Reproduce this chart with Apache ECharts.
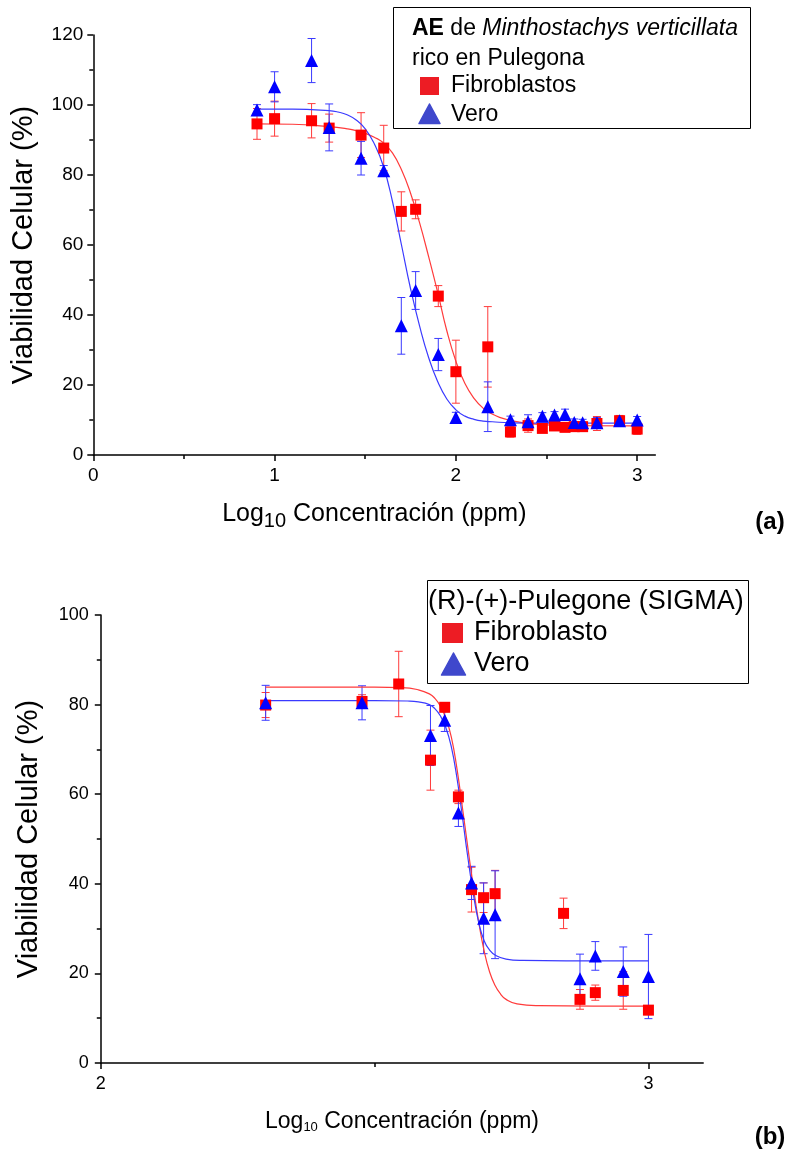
<!DOCTYPE html>
<html>
<head>
<meta charset="utf-8">
<script src="https://cdn.jsdelivr.net/npm/echarts@6/dist/echarts.min.js"></script>
<style>
html,body{margin:0;padding:0;background:#fff;}
#c{width:790px;height:1153px;}
</style>
</head>
<body>
<div id="c"></div>
<script>
// ---------- Panel (a): AE de Minthostachys verticillata ----------
const xA = [0.903, 1.000, 1.204, 1.301, 1.477, 1.602, 1.699, 1.778, 1.903, 2.000, 2.176, 2.301, 2.398, 2.477, 2.544, 2.602, 2.653, 2.699, 2.778, 2.903, 3.000];
const fibA = [94.6, 96.1, 95.5, 93.4, 91.4, 87.7, 69.6, 70.2, 45.4, 23.8, 30.9, 6.6, 8.4, 7.6, 8.3, 7.9, 8.1, 8.1, 9.0, 9.8, 7.4];
const fibAErr = [4.4, 5.0, 4.9, 4.0, 6.4, 6.5, 5.6, 2.7, 3.0, 9.0, 11.5, 1.5, 1.9, 1.0, 1.0, 1.0, 0.8, 0.8, 2.0, 1.5, 1.5];
const veroA = [98.6, 105.2, 112.7, 93.6, 84.8, 81.2, 36.9, 47.0, 28.7, 10.7, 13.8, 10.1, 9.5, 11.1, 11.4, 11.6, 9.3, 9.2, 9.2, 9.8, 10.0];
const veroAErr = [1.5, 4.3, 6.3, 6.7, 4.8, 1.5, 8.1, 5.4, 4.6, 1.5, 7.1, 1.0, 2.0, 1.0, 1.0, 1.5, 1.0, 1.0, 1.5, 1.0, 1.0];
const fitFibAx = [0.903, 1.1, 1.3, 1.4, 1.45, 1.5, 1.55, 1.6, 1.65, 1.7, 1.75, 1.8, 1.85, 1.9, 1.95, 2.0, 2.05, 2.1, 2.15, 2.2, 2.25, 2.3, 2.35, 2.4, 2.5, 2.7, 3.0];
const fitFibAy = [94.6, 94.5, 93.8, 93.2, 92.7, 91.9, 90.8, 89.2, 86.3, 81.5, 74.8, 66.3, 56.6, 46.4, 35.5, 26.8, 20.4, 16.2, 13.4, 11.7, 10.6, 9.9, 9.4, 9.0, 8.6, 8.4, 8.3];
const fitVeroAx = [0.903, 1.1, 1.3, 1.35, 1.4, 1.45, 1.5, 1.55, 1.6, 1.65, 1.7, 1.75, 1.8, 1.85, 1.9, 1.95, 2.0, 2.05, 2.1, 2.15, 2.2, 2.3, 2.5, 3.0];
const fitVeroAy = [98.8, 98.8, 98.4, 98.0, 97.2, 95.7, 93.2, 88.9, 82.5, 72.5, 60.0, 47.5, 36.8, 27.8, 20.9, 16.0, 12.9, 11.1, 10.2, 9.7, 9.5, 9.2, 9.1, 9.1];
const xTicksA = [0, 1, 2, 3];
const xMinorA = [0.5, 1.5, 2.5];

// ---------- Panel (b): (R)-(+)-Pulegone (SIGMA) ----------
const xB = [2.301, 2.477, 2.544, 2.602, 2.628, 2.653, 2.677, 2.699, 2.720, 2.845, 2.875, 2.903, 2.954, 3.000];
const fibB = [79.9, 80.7, 84.6, 67.6, 79.4, 59.4, 38.7, 36.9, 37.8, 33.4, 14.2, 15.7, 16.2, 11.8];
const fibBErr = [2.8, 1.5, 7.3, 6.7, 1.0, 1.5, 5.0, 3.3, 5.2, 3.4, 2.2, 1.7, 4.2, 1.0];
const veroB = [80.4, 80.4, null, 73.1, 76.5, 55.8, 40.2, 32.3, 33.1, null, 18.8, 23.9, 20.4, 19.3];
const veroBErr = [3.9, 3.8, null, 6.7, 2.5, 3.0, 3.7, 7.9, 9.8, null, 5.5, 3.2, 5.5, 9.4];
const fitFibBx = [2.301, 2.40, 2.50, 2.55, 2.58, 2.60, 2.61, 2.62, 2.63, 2.64, 2.65, 2.66, 2.67, 2.68, 2.69, 2.70, 2.71, 2.72, 2.73, 2.74, 2.76, 2.80, 2.90, 3.0];
const fitFibBy = [83.9, 83.9, 83.9, 83.8, 83.3, 82.4, 81.4, 79.7, 77.0, 72.8, 66.0, 57.3, 48.3, 39.5, 31.5, 25.0, 20.3, 17.3, 15.4, 14.2, 13.2, 12.8, 12.7, 12.7];
const fitVeroBx = [2.301, 2.40, 2.50, 2.56, 2.58, 2.60, 2.61, 2.62, 2.63, 2.64, 2.65, 2.66, 2.67, 2.68, 2.69, 2.70, 2.71, 2.72, 2.74, 2.77, 2.85, 3.0];
const fitVeroBy = [80.9, 80.9, 80.9, 80.8, 80.6, 80.0, 79.1, 77.5, 74.9, 70.6, 63.9, 55.2, 46.1, 37.9, 31.4, 27.3, 25.2, 24.1, 23.2, 22.9, 22.8, 22.8];
const xTicksB = [2, 3];
const xMinorB = [2.5];

// ---------- helpers ----------
const FONT = '"Liberation Sans", Arial, sans-serif';
const zip = (xs, ys) => xs.map((x, i) => [x, ys[i]]).filter(p => p[1] != null);
const zipErr = (xs, ys, es) => xs.map((x, i) => [x, ys[i], es[i]]).filter(p => p[1] != null);

function errRender(color) {
  return function (params, api) {
    const x = api.value(0), y = api.value(1), e = api.value(2);
    const t = api.coord([x, y + e]);
    const b = api.coord([x, y - e]);
    const hw = 4;
    const st = { stroke: color, lineWidth: 1 };
    return {
      type: 'group',
      children: [
        { type: 'line', shape: { x1: t[0], y1: t[1], x2: b[0], y2: b[1] }, style: st },
        { type: 'line', shape: { x1: t[0] - hw, y1: t[1], x2: t[0] + hw, y2: t[1] }, style: st },
        { type: 'line', shape: { x1: b[0] - hw, y1: b[1], x2: b[0] + hw, y2: b[1] }, style: st }
      ]
    };
  };
}

const RED = '#ff0000', BLUE = '#0000ff';
const RED_L = '#ff3b3b', BLUE_L = '#3a3aff';

function xAxisMain(grid, min, max, ticks, name, gap, fs, subFs, subPad, labFs, margin) {
  return {
    type: 'value', gridIndex: grid, min: min, max: max, position: 'bottom',
    axisLine: { show: true, onZero: false, lineStyle: { color: '#000', width: 1.5 } },
    axisTick: { show: true, inside: false, length: 6, customValues: ticks, lineStyle: { color: '#000', width: 1.5 } },
    axisLabel: { show: true, customValues: ticks, margin: margin, fontSize: labFs, fontFamily: FONT, color: '#000' },
    splitLine: { show: false },
    name: name, nameLocation: 'middle', nameGap: gap,
    nameTextStyle: {
      fontSize: fs, fontFamily: FONT, color: '#000',
      rich: {
        n: { fontSize: fs, fontFamily: FONT, color: '#000' },
        s: { fontSize: subFs, fontFamily: FONT, color: '#000', padding: [subPad, 0, 0, 0] }
      }
    }
  };
}
function xAxisMinor(grid, min, max, ticks) {
  return {
    type: 'value', gridIndex: grid, min: min, max: max, position: 'bottom',
    axisLine: { show: false, onZero: false },
    axisTick: { show: true, inside: false, length: 4, customValues: ticks, lineStyle: { color: '#000', width: 1.5 } },
    axisLabel: { show: false },
    splitLine: { show: false }
  };
}
function yAxis(grid, max, gap, labFs, margin) {
  return {
    type: 'value', gridIndex: grid, min: 0, max: max, interval: 20,
    axisLine: { show: true, onZero: false, lineStyle: { color: '#000', width: 1.5 } },
    axisTick: { show: true, inside: false, length: 6, lineStyle: { color: '#000', width: 1.5 } },
    minorTick: { show: true, splitNumber: 2, length: 4, lineStyle: { color: '#000', width: 1.5 } },
    axisLabel: { margin: margin, fontSize: labFs, fontFamily: FONT, color: '#000' },
    splitLine: { show: false }, minorSplitLine: { show: false },
    name: 'Viabilidad Celular (%)', nameLocation: 'middle', nameGap: gap,
    nameTextStyle: { fontSize: 29, fontFamily: FONT, color: '#000' }
  };
}

function errSeries(xi, yi, data, color) {
  return { type: 'custom', xAxisIndex: xi, yAxisIndex: yi, renderItem: errRender(color),
    data: data, encode: { x: 0, y: 1 }, z: 2, silent: true, clip: false };
}
function fitSeries(xi, yi, data, color) {
  return { type: 'line', xAxisIndex: xi, yAxisIndex: yi, data: data, showSymbol: false, symbol: 'none',
    smooth: 0.5, lineStyle: { color: color, width: 1.2 }, z: 3, silent: true };
}
function ptSeries(xi, yi, data, color, symbol, size, z) {
  return { type: 'scatter', xAxisIndex: xi, yAxisIndex: yi, data: data, symbol: symbol, symbolSize: size,
    itemStyle: { color: color, opacity: 1 }, z: z, silent: true };
}

const chart = echarts.init(document.getElementById('c'), null, { renderer: 'canvas' });

const option = {
  backgroundColor: '#fff',
  animation: false,
  grid: [
    { left: 93.3, right: 134.7, top: 35, height: 420, containLabel: false },
    { left: 100.8, right: 86.8, top: 615, height: 448, containLabel: false }
  ],
  xAxis: [
    xAxisMain(0, 0, 3.1, xTicksA, '{n|Log}{s|10}{n| Concentración (ppm)}', 42, 25, 20, 14, 19, 11),
    xAxisMinor(0, 0, 3.1, xMinorA),
    xAxisMain(1, 2, 3.1, xTicksB, '{n|Log}{s|10}{n| Concentración (ppm)}', 46, 23, 13, 12, 18, 12),
    xAxisMinor(1, 2, 3.1, xMinorB)
  ],
  yAxis: [
    yAxis(0, 120, 55, 19, 10),
    yAxis(1, 100, 57, 18, 12)
  ],
  series: [
    errSeries(0, 0, zipErr(xA, fibA, fibAErr), RED_L),
    errSeries(0, 0, zipErr(xA, veroA, veroAErr), BLUE_L),
    fitSeries(0, 0, zip(fitFibAx, fitFibAy), RED_L),
    fitSeries(0, 0, zip(fitVeroAx, fitVeroAy), BLUE_L),
    ptSeries(0, 0, zip(xA, fibA), RED, 'rect', 11, 4),
    ptSeries(0, 0, zip(xA, veroA), BLUE, 'triangle', 13, 5),

    errSeries(2, 1, zipErr(xB, fibB, fibBErr), RED_L),
    errSeries(2, 1, zipErr(xB, veroB, veroBErr), BLUE_L),
    fitSeries(2, 1, zip(fitFibBx, fitFibBy), RED_L),
    fitSeries(2, 1, zip(fitVeroBx, fitVeroBy), BLUE_L),
    ptSeries(2, 1, zip(xB, fibB), RED, 'rect', 11, 4),
    ptSeries(2, 1, zip(xB, veroB), BLUE, 'triangle', 13, 5)
  ],
  graphic: [
    // legend (a)
    { type: 'rect', shape: { x: 393.5, y: 7.5, width: 357, height: 121 }, style: { fill: '#fff', stroke: '#000', lineWidth: 1 }, z: 10 },
    { type: 'text', x: 412, y: 29, z: 11, style: { text: '{b|AE} de {i|Minthostachys verticillata}', fontSize: 23, fontFamily: FONT, fill: '#000', verticalAlign: 'middle', align: 'left',
      rich: { b: { fontWeight: 'bold', fontSize: 23, fontFamily: FONT, fill: '#000' }, i: { fontStyle: 'italic', fontSize: 23, fontFamily: FONT, fill: '#000' } } } },
    { type: 'text', x: 412, y: 59, z: 11, style: { text: 'rico en Pulegona', fontSize: 23, fontFamily: FONT, fill: '#000', verticalAlign: 'middle', align: 'left' } },
    { type: 'rect', shape: { x: 420, y: 77, width: 19, height: 18 }, style: { fill: '#ed1c24' }, z: 11 },
    { type: 'text', x: 451, y: 86, z: 11, style: { text: 'Fibroblastos', fontSize: 23, fontFamily: FONT, fill: '#000', verticalAlign: 'middle', align: 'left' } },
    { type: 'polygon', shape: { points: [[419, 123.5], [440, 123.5], [429.5, 104]] }, style: { fill: '#3f48cc', stroke: '#3f48cc', lineWidth: 1.5, lineJoin: 'round' }, z: 11 },
    { type: 'text', x: 451, y: 115, z: 11, style: { text: 'Vero', fontSize: 23, fontFamily: FONT, fill: '#000', verticalAlign: 'middle', align: 'left' } },

    // legend (b)
    { type: 'rect', shape: { x: 427.5, y: 580.5, width: 321, height: 103 }, style: { fill: '#fff', stroke: '#000', lineWidth: 1 }, z: 10 },
    { type: 'text', x: 428, y: 602, z: 11, style: { text: '(R)-(+)-Pulegone (SIGMA)', fontSize: 27, fontFamily: FONT, fill: '#000', verticalAlign: 'middle', align: 'left' } },
    { type: 'rect', shape: { x: 442, y: 623, width: 21, height: 20 }, style: { fill: '#ed1c24' }, z: 11 },
    { type: 'text', x: 474, y: 633, z: 11, style: { text: 'Fibroblasto', fontSize: 27, fontFamily: FONT, fill: '#000', verticalAlign: 'middle', align: 'left' } },
    { type: 'polygon', shape: { points: [[441.5, 675], [465.5, 675], [453.5, 653]] }, style: { fill: '#3f48cc', stroke: '#3f48cc', lineWidth: 1.5, lineJoin: 'round' }, z: 11 },
    { type: 'text', x: 474, y: 664, z: 11, style: { text: 'Vero', fontSize: 27, fontFamily: FONT, fill: '#000', verticalAlign: 'middle', align: 'left' } },

    // panel labels
    { type: 'text', x: 770, y: 522, z: 11, style: { text: '(a)', fontSize: 24, fontWeight: 'bold', fontFamily: FONT, fill: '#000', verticalAlign: 'middle', align: 'center' } },
    { type: 'text', x: 770, y: 1137, z: 11, style: { text: '(b)', fontSize: 24, fontWeight: 'bold', fontFamily: FONT, fill: '#000', verticalAlign: 'middle', align: 'center' } }
  ]
};
chart.setOption(option);
</script>
</body>
</html>
